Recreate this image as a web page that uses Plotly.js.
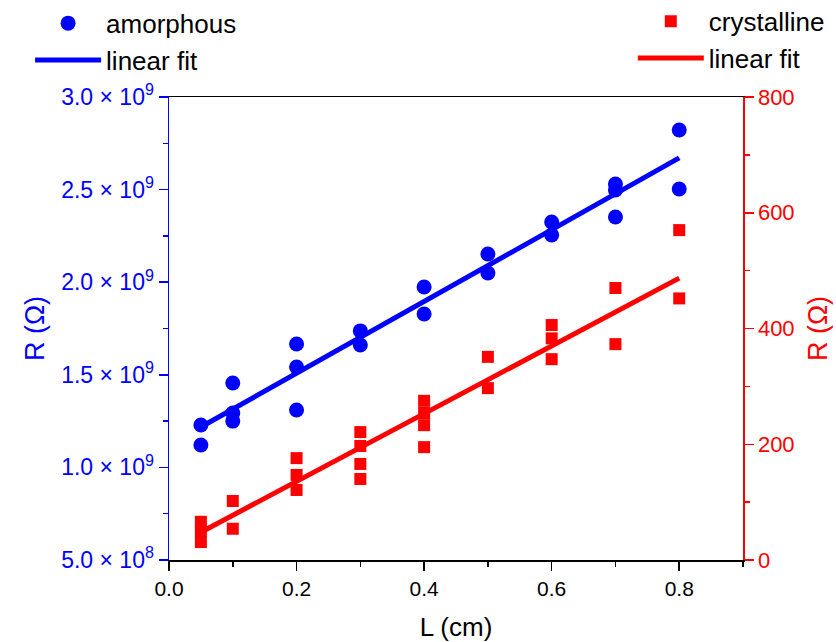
<!DOCTYPE html>
<html>
<head>
<meta charset="utf-8">
<script src="https://cdn.plot.ly/plotly-3.0.1.min.js"></script>
<style>html,body{margin:0;padding:0;background:#fff;}#chart{width:836px;height:642px;}</style>
</head>
<body>
<div id="chart"></div>
<script>
// amorphous samples (left axis, Ohm)
const amX = [0.05, 0.05, 0.1, 0.1, 0.1, 0.2, 0.2, 0.2, 0.3, 0.3, 0.4, 0.4, 0.5, 0.5, 0.6, 0.6, 0.7, 0.7, 0.7, 0.8, 0.8];
const amR = [1.229e9, 1.121e9, 1.456e9, 1.294e9, 1.25e9, 1.666e9, 1.542e9, 1.31e9, 1.737e9, 1.661e9, 1.974e9, 1.828e9, 2.152e9, 2.05e9, 2.325e9, 2.255e9, 2.53e9, 2.498e9, 2.352e9, 2.822e9, 2.503e9];
// crystalline samples (right axis, Ohm)
const crX = [0.05, 0.05, 0.05, 0.1, 0.1, 0.2, 0.2, 0.2, 0.3, 0.3, 0.3, 0.3, 0.4, 0.4, 0.4, 0.4, 0.5, 0.5, 0.6, 0.6, 0.6, 0.7, 0.7, 0.8, 0.8];
const crR = [66, 50, 31, 102, 54, 176, 147, 121, 221, 197, 166, 140, 275, 254, 233, 195, 351, 297, 406, 383, 347, 470, 373, 570, 452];
// linear fit end points
const fitX = [0.05, 0.8];
const amFit = [1.218e9, 2.671e9];
const crFit = [48, 487];
// tick labels
const xTicks = [0, 0.2, 0.4, 0.6, 0.8];
const xTickText = ['0.0', '0.2', '0.4', '0.6', '0.8'];
const yTicks = [5e8, 1e9, 1.5e9, 2e9, 2.5e9, 3e9];
const yTickText = ['5.0 × 10<sup>8</sup>', '1.0 × 10<sup>9</sup>', '1.5 × 10<sup>9</sup>', '2.0 × 10<sup>9</sup>', '2.5 × 10<sup>9</sup>', '3.0 × 10<sup>9</sup>'];
const y2Ticks = [0, 200, 400, 600, 800];

const BLUE = '#0000ff', RED = '#ff0000';
const FONT = 'Liberation Sans, Arial, sans-serif';

const traces = [
  {x: amX, y: amR, type: 'scatter', mode: 'markers', name: 'amorphous', legend: 'legend',
   marker: {symbol: 'circle', size: 15, color: BLUE}, cliponaxis: false},
  {x: fitX, y: amFit, type: 'scatter', mode: 'lines', name: 'linear fit', legend: 'legend',
   line: {color: BLUE, width: 5}},
  {x: crX, y: crR, type: 'scatter', mode: 'markers', name: 'crystalline', legend: 'legend2', yaxis: 'y2',
   marker: {symbol: 'square', size: 12, color: RED}},
  {x: fitX, y: crFit, type: 'scatter', mode: 'lines', name: 'linear fit', legend: 'legend2', yaxis: 'y2',
   line: {color: RED, width: 5}}
];

const layout = {
  width: 836, height: 642,
  margin: {l: 169, r: 93, t: 97, b: 82, autoexpand: false},
  paper_bgcolor: '#fff', plot_bgcolor: '#fff',
  font: {family: FONT, size: 20, color: '#000'},
  showlegend: true,
  xaxis: {
    range: [0, 0.9], showgrid: false, zeroline: false,
    showline: true, linecolor: '#000', linewidth: 1.5, mirror: true,
    ticks: 'outside', ticklen: 9, tickwidth: 1.5, tickcolor: '#000',
    tickvals: xTicks, ticktext: xTickText,
    tickfont: {size: 21, color: '#000', family: FONT},
    minor: {dtick: 0.1, ticks: 'outside', ticklen: 5, tickwidth: 1.5, tickcolor: '#000', showgrid: false},
    title: {text: 'L (cm)', font: {size: 26, color: '#000', family: FONT}, standoff: 19}
  },
  yaxis: {
    range: [5e8, 3e9], showgrid: false, zeroline: false,
    showline: true, linecolor: BLUE, linewidth: 1.5,
    ticks: 'outside', ticklen: 9, tickwidth: 1.5, tickcolor: BLUE,
    tickvals: yTicks, ticktext: yTickText,
    tickfont: {size: 23, color: BLUE, family: FONT},
    minor: {dtick: 2.5e8, ticks: 'outside', ticklen: 5, tickwidth: 1.5, tickcolor: BLUE, showgrid: false},
    title: {text: 'R (Ω)', font: {size: 27, color: BLUE, family: FONT}, standoff: 8}
  },
  yaxis2: {
    overlaying: 'y', side: 'right', anchor: 'x',
    range: [0, 800], showgrid: false, zeroline: false,
    showline: true, linecolor: RED, linewidth: 1.5,
    ticks: 'outside', ticklen: 9, tickwidth: 1.5, tickcolor: RED,
    tickvals: y2Ticks,
    tickfont: {size: 22, color: RED, family: FONT},
    minor: {dtick: 100, ticks: 'outside', ticklen: 5, tickwidth: 1.5, tickcolor: RED, showgrid: false},
    title: {text: 'R (Ω)', font: {size: 27, color: RED, family: FONT}, standoff: 14}
  },
  legend: {
    x: -0.242, y: 1.21, xanchor: 'left', yanchor: 'top',
    bgcolor: 'rgba(0,0,0,0)', itemwidth: 66, tracegroupgap: 0,
    font: {size: 26, color: '#000', family: FONT}
  },
  legend2: {
    x: 0.808, y: 1.214, xanchor: 'left', yanchor: 'top',
    bgcolor: 'rgba(0,0,0,0)', itemwidth: 66, tracegroupgap: 0,
    font: {size: 26, color: '#000', family: FONT}
  }
};

Plotly.newPlot('chart', traces, layout, {displayModeBar: false, staticPlot: true});
</script>
</body>
</html>
